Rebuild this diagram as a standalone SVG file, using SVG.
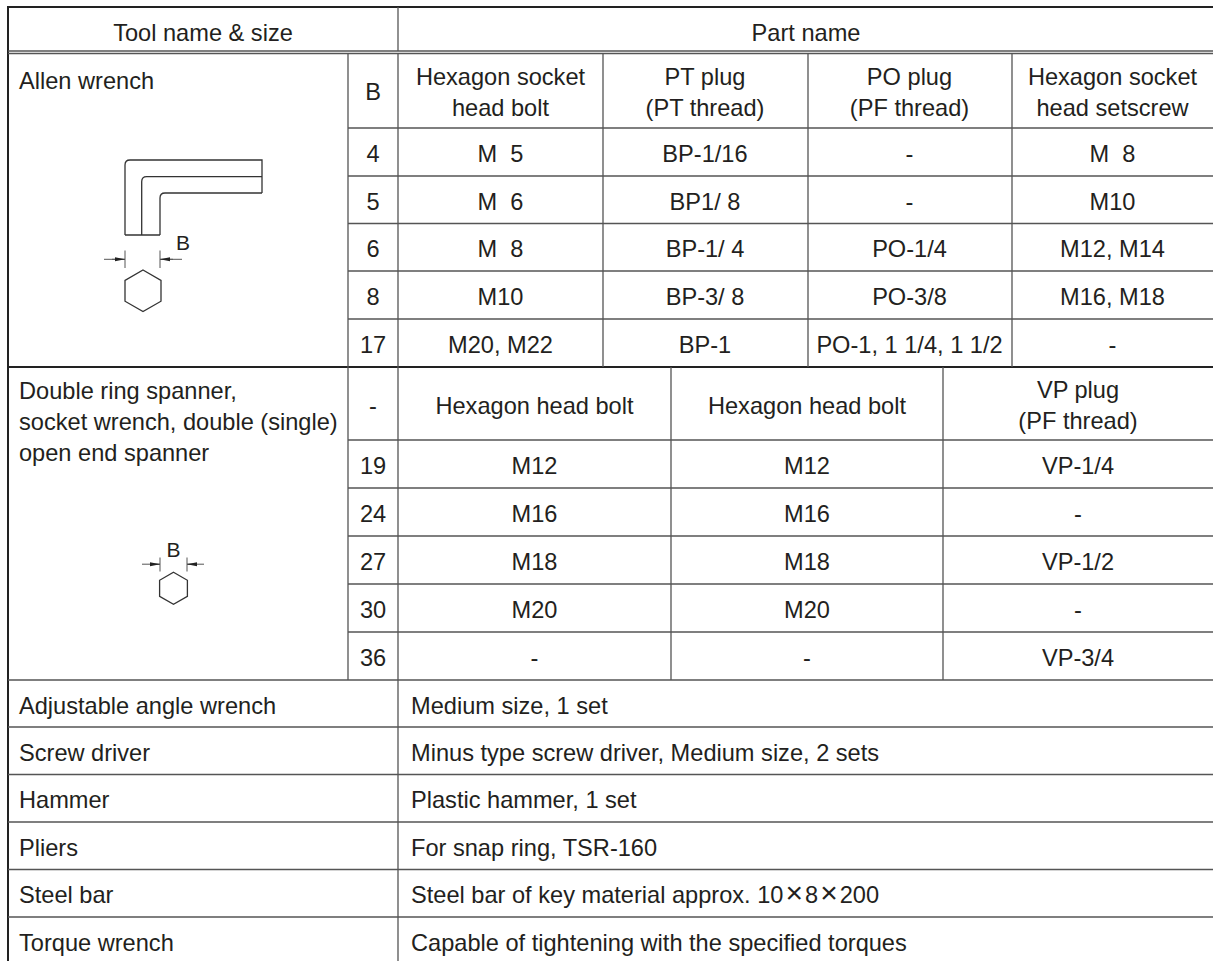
<svg xmlns="http://www.w3.org/2000/svg" width="1213" height="961" viewBox="0 0 1213 961">
<style>
.t{font-family:"Liberation Sans",Arial,Helvetica,sans-serif;font-size:23.6px;fill:#231f20}
.c{text-anchor:middle}
.g{stroke:#555;stroke-width:1.3;fill:none}
.o{stroke:#222;stroke-width:2;fill:none}
.d{stroke:#333;stroke-width:1.3;fill:none}
.dim{stroke:#555;stroke-width:1;fill:none}
.b{font-family:"Liberation Sans",Arial,sans-serif;font-size:21px;fill:#231f20;text-anchor:middle}
.x{font-size:30px}
</style>
<defs>
<marker id="ar" viewBox="0 0 10 6" refX="10" refY="3" markerWidth="10" markerHeight="6" markerUnits="userSpaceOnUse" orient="auto">
<path d="M0,1 L10,3 L0,5 Z" fill="#222"/>
</marker>
</defs>
<rect width="1213" height="961" fill="#fff"/>
<g id="grid">
<path class="o" d="M8,965 V7 H1215"/>
<path class="g" d="M8,51 H1213 M8,53.5 H1213"/>
<path class="o" d="M8,367 H1213"/>
<path class="g" d="M398,7 V51"/>
<path class="g" d="M348,53 V680 M398,53 V965"/>
<path class="g" d="M603,53 V367 M808,53 V367 M1012,53 V367"/>
<path class="g" d="M671,367 V680 M943,367 V680"/>
<path class="g" d="M348,128 H1213 M348,176 H1213 M348,223.5 H1213 M348,271 H1213 M348,319 H1213"/>
<path class="g" d="M348,440 H1213 M348,488 H1213 M348,536 H1213 M348,584 H1213 M348,632 H1213"/>
<path class="g" d="M8,680 H1213 M8,727 H1213 M8,774.5 H1213 M8,822 H1213 M8,869.5 H1213 M8,917 H1213"/>
</g>
<g id="header">
<text class="t c" x="203" y="41">Tool name &amp; size</text>
<text class="t c" x="806" y="41">Part name</text>
</g>
<g id="allen">
<text class="t" x="19" y="89">Allen wrench</text>
<path class="d" d="M125,235 V165 Q125,160 130,160 H262 V193"/>
<path class="d" d="M141.7,235 V181.7 Q141.7,176.7 146.7,176.7 H262"/>
<path class="d" d="M160,235 V198 Q160,193 165,193 H262"/>
<path class="d" d="M125,235 H160"/>
<path class="dim" d="M125,250.5 V268 M160,250.5 V268"/>
<path class="dim" d="M104,259.3 H125 M160,259.3 H182"/>
<path class="dim" d="M112,259.3 H125" marker-end="url(#ar)"/>
<path class="dim" d="M173,259.3 H160" marker-end="url(#ar)"/>
<text class="b" x="183" y="250">B</text>
<polygon class="d" points="143,270 161,280.4 161,301.2 143,311.6 125,301.2 125,280.4"/>
<text class="t c" x="373" y="100">B</text>
<text class="t c" x="500.5" y="84.5">Hexagon socket</text>
<text class="t c" x="500.5" y="115.5">head bolt</text>
<text class="t c" x="705" y="84.5">PT plug</text>
<text class="t c" x="705" y="115.5">(PT thread)</text>
<text class="t c" x="909.5" y="84.5">PO plug</text>
<text class="t c" x="909.5" y="115.5">(PF thread)</text>
<text class="t c" x="1112.5" y="84.5">Hexagon socket</text>
<text class="t c" x="1112.5" y="115.5">head setscrew</text>
<g id="r4"><text class="t c" x="373" y="162">4</text><text class="t c" x="500.5" y="162" xml:space="preserve">M  5</text><text class="t c" x="705" y="162">BP-1/16</text><text class="t c" x="909.5" y="162">-</text><text class="t c" x="1112.5" y="162" xml:space="preserve">M  8</text></g>
<g id="r5"><text class="t c" x="373" y="209.7">5</text><text class="t c" x="500.5" y="209.7" xml:space="preserve">M  6</text><text class="t c" x="705" y="209.7" xml:space="preserve">BP1/ 8</text><text class="t c" x="909.5" y="209.7">-</text><text class="t c" x="1112.5" y="209.7">M10</text></g>
<g id="r6"><text class="t c" x="373" y="257.2">6</text><text class="t c" x="500.5" y="257.2" xml:space="preserve">M  8</text><text class="t c" x="705" y="257.2" xml:space="preserve">BP-1/ 4</text><text class="t c" x="909.5" y="257.2">PO-1/4</text><text class="t c" x="1112.5" y="257.2">M12, M14</text></g>
<g id="r8"><text class="t c" x="373" y="305">8</text><text class="t c" x="500.5" y="305">M10</text><text class="t c" x="705" y="305" xml:space="preserve">BP-3/ 8</text><text class="t c" x="909.5" y="305">PO-3/8</text><text class="t c" x="1112.5" y="305">M16, M18</text></g>
<g id="r17"><text class="t c" x="373" y="353">17</text><text class="t c" x="500.5" y="353">M20, M22</text><text class="t c" x="705" y="353">BP-1</text><text class="t c" x="909.5" y="353">PO-1, 1 1/4, 1 1/2</text><text class="t c" x="1112.5" y="353">-</text></g>
</g>
<g id="spanner">
<text class="t" x="19" y="399">Double ring spanner,</text>
<text class="t" x="19" y="430">socket wrench, double (single)</text>
<text class="t" x="19" y="461">open end spanner</text>
<text class="b" x="173.5" y="556.5">B</text>
<path class="dim" d="M160,557.5 V571.5 M187,557.5 V571.5"/>
<path class="dim" d="M142,564.2 H160 M187,564.2 H204"/>
<path class="dim" d="M150,564.2 H160" marker-end="url(#ar)"/>
<path class="dim" d="M197,564.2 H187" marker-end="url(#ar)"/>
<polygon class="d" points="173.5,572.3 187.4,580.3 187.4,596.3 173.5,604.3 159.6,596.3 159.6,580.3"/>
<text class="t c" x="373" y="413.5">-</text>
<text class="t c" x="534.5" y="413.5">Hexagon head bolt</text>
<text class="t c" x="807" y="413.5">Hexagon head bolt</text>
<text class="t c" x="1078" y="398">VP plug</text>
<text class="t c" x="1078" y="429">(PF thread)</text>
<g id="r19"><text class="t c" x="373" y="474">19</text><text class="t c" x="534.5" y="474">M12</text><text class="t c" x="807" y="474">M12</text><text class="t c" x="1078" y="474">VP-1/4</text></g>
<g id="r24"><text class="t c" x="373" y="522">24</text><text class="t c" x="534.5" y="522">M16</text><text class="t c" x="807" y="522">M16</text><text class="t c" x="1078" y="522">-</text></g>
<g id="r27"><text class="t c" x="373" y="570">27</text><text class="t c" x="534.5" y="570">M18</text><text class="t c" x="807" y="570">M18</text><text class="t c" x="1078" y="570">VP-1/2</text></g>
<g id="r30"><text class="t c" x="373" y="618">30</text><text class="t c" x="534.5" y="618">M20</text><text class="t c" x="807" y="618">M20</text><text class="t c" x="1078" y="618">-</text></g>
<g id="r36"><text class="t c" x="373" y="666">36</text><text class="t c" x="534.5" y="666">-</text><text class="t c" x="807" y="666">-</text><text class="t c" x="1078" y="666">VP-3/4</text></g>
</g>
<g id="others">
<g id="adj"><text class="t" x="19" y="713.5">Adjustable angle wrench</text><text class="t" x="411" y="713.5">Medium size, 1 set</text></g>
<g id="screw"><text class="t" x="19" y="760.7">Screw driver</text><text class="t" x="411" y="760.7">Minus type screw driver, Medium size, 2 sets</text></g>
<g id="hammer"><text class="t" x="19" y="808.2">Hammer</text><text class="t" x="411" y="808.2">Plastic hammer, 1 set</text></g>
<g id="pliers"><text class="t" x="19" y="855.7">Pliers</text><text class="t" x="411" y="855.7">For snap ring, TSR-160</text></g>
<g id="steel"><text class="t" x="19" y="903.2">Steel bar</text><text class="t" x="411" y="903.2">Steel bar of key material approx. 10<tspan class="x" dx="2">×</tspan><tspan dx="2">8</tspan><tspan class="x" dx="2">×</tspan><tspan dx="2">200</tspan></text></g>
<g id="torque"><text class="t" x="19" y="950.5">Torque wrench</text><text class="t" x="411" y="950.5">Capable of tightening with the specified torques</text></g>
</g>
</svg>
